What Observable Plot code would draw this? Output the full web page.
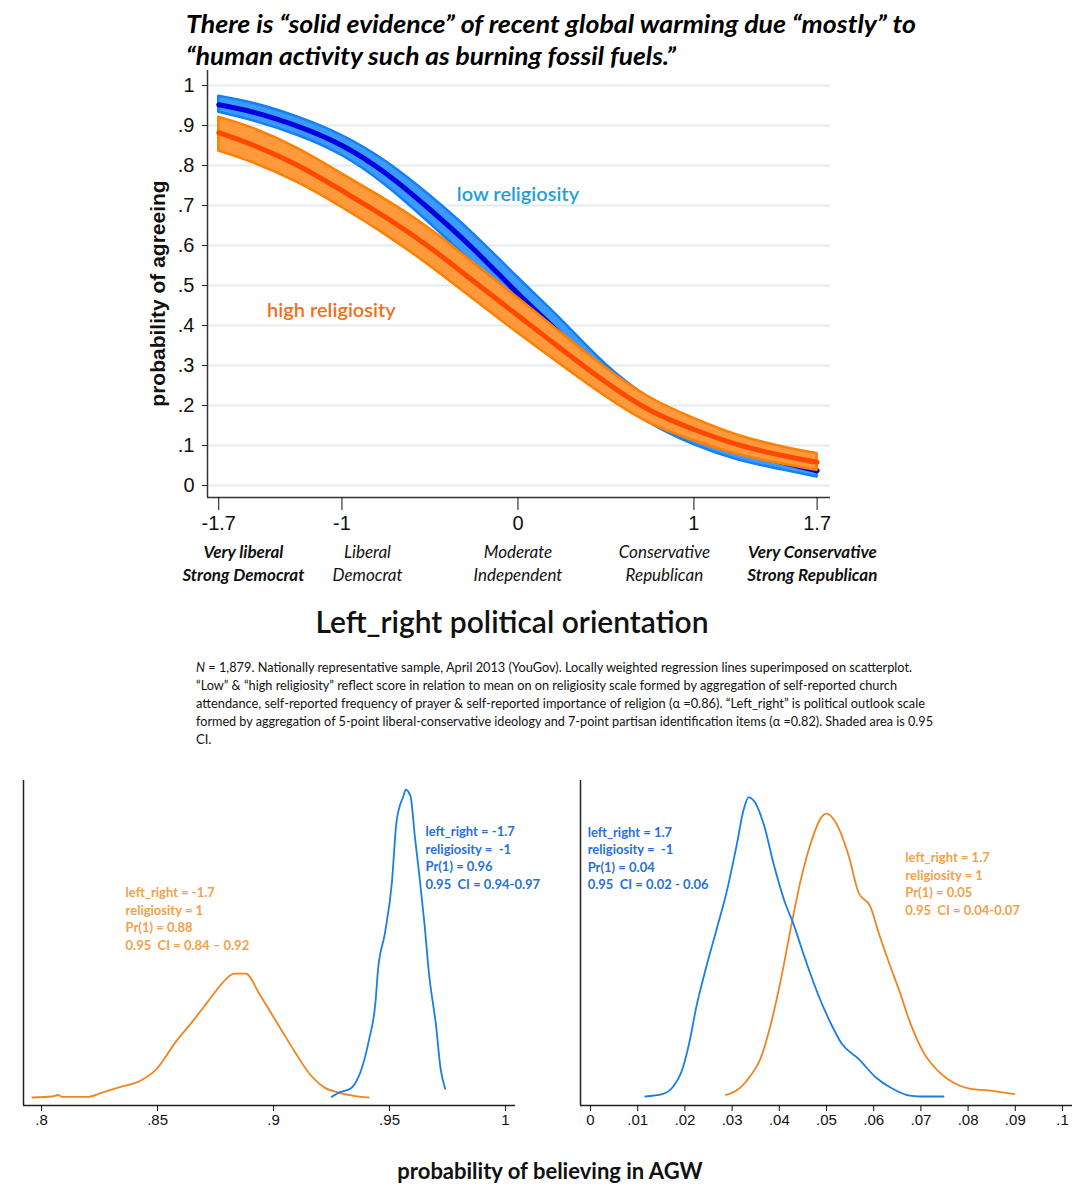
<!DOCTYPE html>
<html><head><meta charset="utf-8">
<script src="https://cdn.jsdelivr.net/npm/d3@7"></script>
<script src="https://cdn.jsdelivr.net/npm/@observablehq/plot@0.6"></script>
<style>
body{margin:0;background:#fff;}
#wrap{position:relative;width:1090px;height:1200px;overflow:hidden;background:#fff;}
#wrap > svg{position:absolute;}
.h{position:absolute;white-space:nowrap;color:#111;}
</style></head><body><div id="wrap"></div>
<script>
// ---------- top chart data ----------
const xPos    = [-1.7, -1.5, -1.25, -1, -0.75, -0.5, -0.25, 0, 0.25, 0.5, 0.75, 1, 1.25, 1.5, 1.7];
const lowFit  = [0.952,0.933,0.898,0.850,0.780,0.690,0.590,0.480,0.375,0.268,0.187,0.129,0.087,0.058,0.037];
const lowLo   = [0.933,0.911,0.875,0.825,0.750,0.655,0.552,0.440,0.337,0.233,0.156,0.102,0.064,0.039,0.021];
const lowHi   = [0.973,0.955,0.921,0.875,0.810,0.725,0.628,0.520,0.413,0.303,0.218,0.156,0.110,0.077,0.053];
const highFit = [0.882,0.850,0.800,0.737,0.670,0.595,0.510,0.425,0.340,0.258,0.188,0.140,0.102,0.075,0.058];
const highLo  = [0.836,0.806,0.757,0.695,0.626,0.549,0.465,0.381,0.300,0.222,0.156,0.112,0.078,0.054,0.038];
const highHi  = [0.921,0.892,0.842,0.779,0.714,0.641,0.555,0.469,0.380,0.294,0.220,0.168,0.126,0.097,0.080];

const yTickValues = [0,0.1,0.2,0.3,0.4,0.5,0.6,0.7,0.8,0.9,1];
const yTickLabels = ["0",".1",".2",".3",".4",".5",".6",".7",".8",".9","1"];
const xTickValues = [-1.7,-1,0,1,1.7];
const xTickLabels = ["-1.7","-1","0","1","1.7"];

const catLabels  = ["Very liberal\nStrong Democrat","Liberal\nDemocrat","Moderate\nIndependent","Conservative\nRepublican","Very Conservative\nStrong Republican"];
const catAnchorX = [-1.56,-0.855,0,0.832,1.673];
const catBold    = [true,false,false,false,true];

// ---------- bottom-left densities (left_right = -1.7) ----------
const dLeftLowX  = [0.925,0.929,0.933,0.935,0.938,0.941,0.944,0.945,0.948,0.951,0.953,0.956,0.957,0.959,0.961,0.963,0.965,0.967,0.970,0.972,0.974];
const dLeftLowY  = [0.1,0.9,1.4,2.2,4.7,9.1,15.7,20.6,26.6,34.8,44.7,48.9,49.9,48.9,42.0,35.5,28.4,20.1,11.8,4.7,1.4];
const dLeftHighX = [0.796,0.805,0.807,0.809,0.820,0.826,0.833,0.843,0.849,0.858,0.865,0.872,0.878,0.883,0.888,0.894,0.902,0.909,0.916,0.922,0.928,0.934,0.941];
const dLeftHighY = [0,0.2,0.4,0.1,0.1,0.8,1.6,2.8,4.4,9.1,12.3,15.7,18.6,20.1,20.1,16.7,11.8,7.5,3.6,1.6,0.8,0.3,0];
// ---------- bottom-right densities (left_right = 1.7) ----------
const dRightLowX  = [0.0116,0.0152,0.0174,0.0195,0.021,0.0224,0.0245,0.0267,0.0288,0.031,0.0324,0.0335,0.0349,0.0367,0.0389,0.041,0.0432,0.0453,0.0482,0.051,0.0532,0.0568,0.0604,0.064,0.0676,0.0697,0.0748];
const dRightLowY  = [0,0.3,1.2,3.6,7.2,11.6,16.8,21.7,26.5,32.8,37.2,38.9,38.2,35.4,30.0,25.6,22.1,18.2,13.3,9.4,6.9,4.9,2.5,1.0,0.1,0,0];
const dRightHighX = [0.0287,0.031,0.0339,0.036,0.0382,0.0403,0.0425,0.0446,0.0468,0.0489,0.05,0.0518,0.0547,0.0568,0.0593,0.0611,0.0633,0.0654,0.0676,0.0704,0.074,0.0769,0.0805,0.0841,0.0898];
const dRightHighY = [0.2,0.8,2.7,4.9,9.4,15.1,22.1,28.3,33.2,36.3,36.8,35.8,31.3,26.5,24.7,21.2,17.3,13.8,9.8,5.9,3.1,1.8,1.0,0.8,0.3];

const leftTicks  = [0.8,0.85,0.9,0.95,1];
const leftTickLabels = [".8",".85",".9",".95","1"];
const rightTicks = [0,0.01,0.02,0.03,0.04,0.05,0.06,0.07,0.08,0.09,0.1];
const rightTickLabels = ["0",".01",".02",".03",".04",".05",".06",".07",".08",".09",".1"];

const annLeftLow   = "left_right = -1.7\nreligiosity =  -1\nPr(1) = 0.96\n0.95  CI = 0.94-0.97";
const annLeftHigh  = "left_right = -1.7\nreligiosity = 1\nPr(1) = 0.88\n0.95  CI = 0.84 – 0.92";
const annRightLow  = "left_right = 1.7\nreligiosity =  -1\nPr(1) = 0.04\n0.95  CI = 0.02 - 0.06";
const annRightHigh = "left_right = 1.7\nreligiosity = 1\nPr(1) = 0.05\n0.95  CI = 0.04-0.07";

const titleLines = ["There is \u201csolid evidence\u201d of recent global warming due  \u201cmostly\u201d to","\u201chuman activity such as burning fossil fuels.\u201d"];
const captionLines = [
 ["N", " = 1,879.  Nationally representative sample,  April 2013 (YouGov).  Locally weighted regression lines superimposed on scatterplot."],
 ["", "\u201cLow\u201d & \u201chigh religiosity\u201d reflect  score in relation to mean on on religiosity scale formed by aggregation of self-reported church"],
 ["", "attendance, self-reported frequency of prayer & self-reported importance of religion (\u03b1 =0.86).  \u201cLeft_right\u201d is political outlook scale"],
 ["", "formed by aggregation of 5-point liberal-conservative ideology and 7-point partisan identification items (\u03b1 =0.82).  Shaded area is 0.95"],
 ["", "CI."]
];

// ---------- build ----------
const wrap = document.getElementById("wrap");
const low  = xPos.map((x,i)=>({x, fit: lowFit[i],  lo: lowLo[i],  hi: lowHi[i]}));
const high = xPos.map((x,i)=>({x, fit: highFit[i], lo: highLo[i], hi: highHi[i]}));
const cats = catLabels.map((label,i)=>({label, x: catAnchorX[i], bold: catBold[i]}));
const CAL = "Lato, 'Open Sans', sans-serif";
const ARIAL = "Arial, 'Liberation Sans', sans-serif";

const xmin = -1.764, ymin = -0.03;
const topPlot = Plot.plot({
  width: 1090, height: 540,
  marginLeft: 207, marginRight: 260, marginTop: 70, marginBottom: 43,
  x: {domain: [xmin, 1.776]}, y: {domain: [ymin, 1.0375]},
  style: {fontFamily: ARIAL, background: "transparent", overflow: "visible", color: "#111"},
  marks: [
    Plot.ruleY(yTickValues, {stroke: "#e3ebee", strokeWidth: 2}),
    Plot.areaY(low,  {x: "x", y1: "lo", y2: "hi", fill: "#3a9aff", stroke: "#1780f0", strokeWidth: 2.5, curve: "natural"}),
    Plot.line(low,   {x: "x", y: "fit", stroke: "#0000dc", strokeWidth: 5, curve: "natural"}),
    Plot.areaY(high, {x: "x", y1: "lo", y2: "hi", fill: "#ff9a3c", stroke: "#ff8000", strokeWidth: 2.5, curve: "natural"}),
    Plot.line(high,  {x: "x", y: "fit", stroke: "#ff4800", strokeWidth: 5, curve: "natural"}),
    Plot.ruleX([xmin], {stroke: "#333", strokeWidth: 1.5}),
    Plot.ruleY([ymin], {stroke: "#333", strokeWidth: 1.5}),
    Plot.axisY({ticks: yTickValues, tickFormat: (d,i)=>yTickLabels[i], tickSize: 5, tickPadding: 8, fontSize: 20, label: null}),
    Plot.axisX({ticks: xTickValues, tickFormat: (d,i)=>xTickLabels[i], tickSize: 13, tickPadding: 5, fontSize: 20, label: null}),
    Plot.text(["low religiosity"],  {x: () => 0, y: () => 0.7275, fill: "#1e9fdc", fontSize: 20, fontWeight: 600, fontFamily: CAL}),
    Plot.text(["high religiosity"], {x: () => -1.06, y: () => 0.4375, fill: "#f26f1c", fontSize: 20, fontWeight: 600, fontFamily: CAL}),
    Plot.text(["probability of agreeing"], {x: () => xmin, y: () => 0.48, rotate: -90, dx: -49, fontSize: 21, fontWeight: "bold", fontFamily: ARIAL}),
    Plot.text(cats.filter(d=>d.bold),  {x: "x", text: "label", frameAnchor: "bottom", lineAnchor: "middle", dy: 64.5, fontSize: 17, fontStyle: "italic", fontWeight: "bold", lineHeight: 1.35, fontFamily: CAL}),
    Plot.text(cats.filter(d=>!d.bold), {x: "x", text: "label", frameAnchor: "bottom", lineAnchor: "middle", dy: 64.5, fontSize: 17, fontStyle: "italic", lineHeight: 1.35, fontFamily: CAL})
  ]
});
topPlot.style.left = "0px"; topPlot.style.top = "0px";
wrap.appendChild(topPlot);

function densityPlot(opts) {
  const lowRows  = opts.lowX.map((x,i)=>({x, d: opts.lowY[i]}));
  const highRows = opts.highX.map((x,i)=>({x, d: opts.highY[i]}));
  return Plot.plot({
    width: opts.width, height: 420,
    marginLeft: opts.ml, marginRight: opts.mr, marginTop: 40, marginBottom: 55,
    x: {domain: opts.xdom}, y: {domain: opts.ydom, axis: null},
    style: {fontFamily: ARIAL, background: "transparent", overflow: "visible", color: "#111"},
    marks: [
      Plot.line(highRows, {x: "x", y: "d", stroke: "#f0841f", strokeWidth: 1.8, curve: "monotone-x"}),
      Plot.line(lowRows,  {x: "x", y: "d", stroke: "#1b7de6", strokeWidth: 1.8, curve: "monotone-x"}),
      Plot.ruleX([opts.xdom[0]], {stroke: "#222", strokeWidth: 1.5}),
      Plot.ruleY([opts.ydom[0]], {stroke: "#222", strokeWidth: 1.5}),
      Plot.axisX({ticks: opts.ticks, tickFormat: (d,i)=>opts.tickLabels[i], tickSize: 6, tickPadding: 3, fontSize: 15, label: null}),
      Plot.text([opts.annLow],  {x: () => opts.annLowPos[0],  y: () => opts.annLowPos[1],  textAnchor: "start", lineAnchor: "top", lineHeight: 1.35, fontSize: 13, fontWeight: "bold", fontFamily: CAL, fill: "#2a70d8"}),
      Plot.text([opts.annHigh], {x: () => opts.annHighPos[0], y: () => opts.annHighPos[1], textAnchor: "start", lineAnchor: "top", lineHeight: 1.35, fontSize: 13, fontWeight: "bold", fontFamily: CAL, fill: "#f4a04a"})
    ]
  });
}

const leftPlot = densityPlot({
  width: 540, ml: 23, mr: 25, xdom: [0.7922, 1.0043], ydom: [-1.30, 51.4],
  lowX: dLeftLowX, lowY: dLeftLowY, highX: dLeftHighX, highY: dLeftHighY,
  ticks: leftTicks, tickLabels: leftTickLabels,
  annLow: annLeftLow, annLowPos: [0.9655, 44.4], annHigh: annLeftHigh, annHighPos: [0.8362, 34.5]
});
leftPlot.style.left = "0px"; leftPlot.style.top = "740px";
wrap.appendChild(leftPlot);

const rightPlot = densityPlot({
  width: 545, ml: 35, mr: 18, xdom: [-0.00212, 0.10212], ydom: [-1.17, 41.1],
  lowX: dRightLowX, lowY: dRightLowY, highX: dRightHighX, highY: dRightHighY,
  ticks: rightTicks, tickLabels: rightTickLabels,
  annLow: annRightLow, annLowPos: [-0.0006, 35.4], annHigh: annRightHigh, annHighPos: [0.0667, 32.1]
});
rightPlot.style.left = "545px"; rightPlot.style.top = "740px";
wrap.appendChild(rightPlot);

// ---------- text overlay (title, caption) ----------
const NS = "http://www.w3.org/2000/svg";
const ov = document.createElementNS(NS, "svg");
ov.setAttribute("width", 1090); ov.setAttribute("height", 1200);
ov.style.left = "0px"; ov.style.top = "0px"; ov.style.pointerEvents = "none";
const titleW = [730, 490];
titleLines.forEach((t,i)=>{
  const el = document.createElementNS(NS, "text");
  el.setAttribute("x", 186); el.setAttribute("y", 33 + i*32);
  el.setAttribute("font-family", CAL); el.setAttribute("font-size", 25);
  el.setAttribute("font-weight", "bold"); el.setAttribute("font-style", "italic");
  el.setAttribute("textLength", titleW[i]); el.setAttribute("lengthAdjust", "spacingAndGlyphs");
  el.setAttribute("fill", "#000");
  el.textContent = t;
  ov.appendChild(el);
});
const capW = [716, 701, 729, 737, 0];
captionLines.forEach((parts,i)=>{
  const el = document.createElementNS(NS, "text");
  el.setAttribute("x", 196); el.setAttribute("y", 672 + i*18);
  el.setAttribute("font-family", CAL); el.setAttribute("font-size", 13);
  el.setAttribute("fill", "#111");
  el.setAttribute("xml:space", "preserve");
  if (capW[i]) { el.setAttribute("textLength", capW[i]); el.setAttribute("lengthAdjust", "spacingAndGlyphs"); }
  if (parts[0]) { const ts = document.createElementNS(NS, "tspan"); ts.setAttribute("font-style","italic"); ts.textContent = parts[0]; el.appendChild(ts); }
  const ts2 = document.createElementNS(NS, "tspan"); ts2.textContent = parts[1]; el.appendChild(ts2);
  ov.appendChild(el);
});
wrap.appendChild(ov);

const xt = document.createElement("div");
xt.className = "h"; xt.textContent = "Left_right political orientation";
Object.assign(xt.style, {left: "262px", width: "500px", textAlign: "center", top: "603px", fontFamily: CAL, fontSize: "30px", fontWeight: "600"});
wrap.appendChild(xt);

const bt = document.createElement("div");
bt.className = "h"; bt.textContent = "probability of believing in AGW";
Object.assign(bt.style, {left: "300px", width: "500px", textAlign: "center", top: "1157px", fontFamily: CAL, fontSize: "22px", fontWeight: "bold"});
wrap.appendChild(bt);
</script></body></html>
